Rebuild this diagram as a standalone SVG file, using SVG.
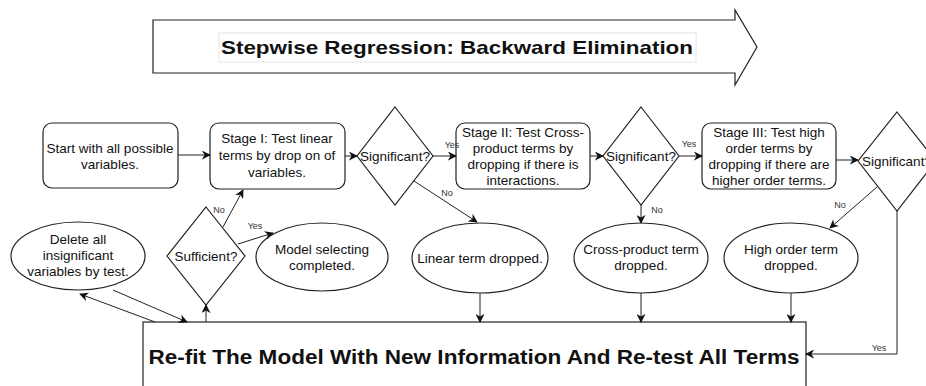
<svg xmlns="http://www.w3.org/2000/svg" width="926" height="386" viewBox="0 0 926 386">
<style>
text{font-family:"Liberation Sans",Arial,Helvetica,sans-serif;fill:#111;text-anchor:middle}
.t{font-size:13.5px}
.lbl{font-size:9px;fill:#333}
.shape{fill:#fff;stroke:#222;stroke-width:1.2}
.c{fill:none;stroke:#222;stroke-width:1}
</style>
<defs>
<marker id="ah" viewBox="0 0 10 10" refX="9" refY="5" markerWidth="9" markerHeight="9" markerUnits="userSpaceOnUse" orient="auto">
<path d="M0,0 L10,5 L0,10 L3,5 z" fill="#111"/>
</marker>
</defs>
<rect width="926" height="386" fill="#fff"/>
<g id="title">
<path class="shape" d="M153,20 L735,20 L735,10 L757,47 L735,85 L735,73 L153,73 Z"/>
<rect x="219" y="33" width="477" height="29" fill="#fff" stroke="#e4e4e4" stroke-width="1"/>
<text x="457" y="54" font-size="19" font-weight="bold" textLength="472" lengthAdjust="spacingAndGlyphs">Stepwise Regression: Backward Elimination</text>
</g>
<g id="start">
<rect class="shape" x="43" y="123" width="135" height="65" rx="9"/>
<text class="t" x="110" y="153">Start with all possible</text>
<text class="t" x="110" y="169">variables.</text>
</g>
<g id="stage1">
<rect class="shape" x="210" y="123" width="135" height="66" rx="9"/>
<text class="t" x="277" y="143">Stage I: Test linear</text>
<text class="t" x="277" y="160">terms by drop on of</text>
<text class="t" x="277" y="177">variables.</text>
</g>
<g id="sig1">
<polygon class="shape" points="395,107 433,156 395,205 357,156"/>
<text class="t" x="395" y="161">Significant?</text>
</g>
<g id="stage2">
<rect class="shape" x="456" y="123" width="134" height="66" rx="9"/>
<text class="t" x="523" y="137">Stage II: Test Cross-</text>
<text class="t" x="523" y="153">product terms by</text>
<text class="t" x="523" y="169">dropping if there is</text>
<text class="t" x="523" y="185">interactions.</text>
</g>
<g id="sig2">
<polygon class="shape" points="641,107 679,156 641,205 603,156"/>
<text class="t" x="641" y="161">Significant?</text>
</g>
<g id="stage3">
<rect class="shape" x="702" y="123" width="134" height="66" rx="9"/>
<text class="t" x="769" y="137">Stage III: Test high</text>
<text class="t" x="769" y="153">order terms by</text>
<text class="t" x="769" y="169">dropping if there are</text>
<text class="t" x="769" y="185">higher order terms.</text>
</g>
<g id="sig3">
<polygon class="shape" points="897,112 936,161 897,211 858,161"/>
<text class="t" x="897" y="166">Significant?</text>
</g>
<g id="delete">
<ellipse class="shape" cx="78" cy="256" rx="67" ry="34"/>
<text class="t" x="78" y="244">Delete all</text>
<text class="t" x="78" y="260">insignificant</text>
<text class="t" x="78" y="276">variables by test.</text>
</g>
<g id="sufficient">
<polygon class="shape" points="206,207 245,256 206,305 167,256"/>
<text class="t" x="206" y="261">Sufficient?</text>
</g>
<g id="model">
<ellipse class="shape" cx="322" cy="257" rx="66" ry="34"/>
<text class="t" x="322" y="254">Model selecting</text>
<text class="t" x="322" y="270">completed.</text>
</g>
<g id="linear">
<ellipse class="shape" cx="480" cy="258" rx="68" ry="35"/>
<text class="t" x="480" y="263">Linear term dropped.</text>
</g>
<g id="cross">
<ellipse class="shape" cx="641" cy="258" rx="67" ry="35"/>
<text class="t" x="641" y="254">Cross-product term</text>
<text class="t" x="641" y="270">dropped.</text>
</g>
<g id="high">
<ellipse class="shape" cx="791" cy="258" rx="67" ry="35"/>
<text class="t" x="791" y="254">High order term</text>
<text class="t" x="791" y="270">dropped.</text>
</g>
<g id="refit">
<rect class="shape" x="143" y="322" width="663" height="80"/>
<text x="474" y="364" font-size="20" font-weight="bold" textLength="651" lengthAdjust="spacingAndGlyphs">Re-fit The Model With New Information And Re-test All Terms</text>
</g>
<g id="connectors">
<path class="c" d="M178,155 L210,155" marker-end="url(#ah)"/>
<path class="c" d="M345,156 L357,156" marker-end="url(#ah)"/>
<path class="c" d="M433,156 L456,156" marker-end="url(#ah)"/>
<path class="c" d="M590,156 L603,156" marker-end="url(#ah)"/>
<path class="c" d="M679,156 L702,156" marker-end="url(#ah)"/>
<path class="c" d="M836,160 L858,160" marker-end="url(#ah)"/>
<path class="c" d="M414,181 L477,222" marker-end="url(#ah)"/>
<path class="c" d="M641,205 L641,223" marker-end="url(#ah)"/>
<path class="c" d="M877,187 L830,228" marker-end="url(#ah)"/>
<path class="c" d="M897,211 L897,354 L806,354" marker-end="url(#ah)"/>
<path class="c" d="M480,293 L480,322" marker-end="url(#ah)"/>
<path class="c" d="M641,293 L641,322" marker-end="url(#ah)"/>
<path class="c" d="M791,293 L791,322" marker-end="url(#ah)"/>
<path class="c" d="M155,322 L80,294" marker-end="url(#ah)"/>
<path class="c" d="M113,290 L187,322" marker-end="url(#ah)"/>
<path class="c" d="M206,322 L206,305" marker-end="url(#ah)"/>
<path class="c" d="M223,227 L243,190" marker-end="url(#ah)"/>
<path class="c" d="M238,244 L273,233" marker-end="url(#ah)"/>
<text class="lbl" x="452" y="148">Yes</text>
<text class="lbl" x="447" y="196">No</text>
<text class="lbl" x="689" y="147">Yes</text>
<text class="lbl" x="657" y="213">No</text>
<text class="lbl" x="840" y="208">No</text>
<text class="lbl" x="879" y="351">Yes</text>
<text class="lbl" x="219" y="213">No</text>
<text class="lbl" x="255" y="229">Yes</text>
</g>
</svg>
